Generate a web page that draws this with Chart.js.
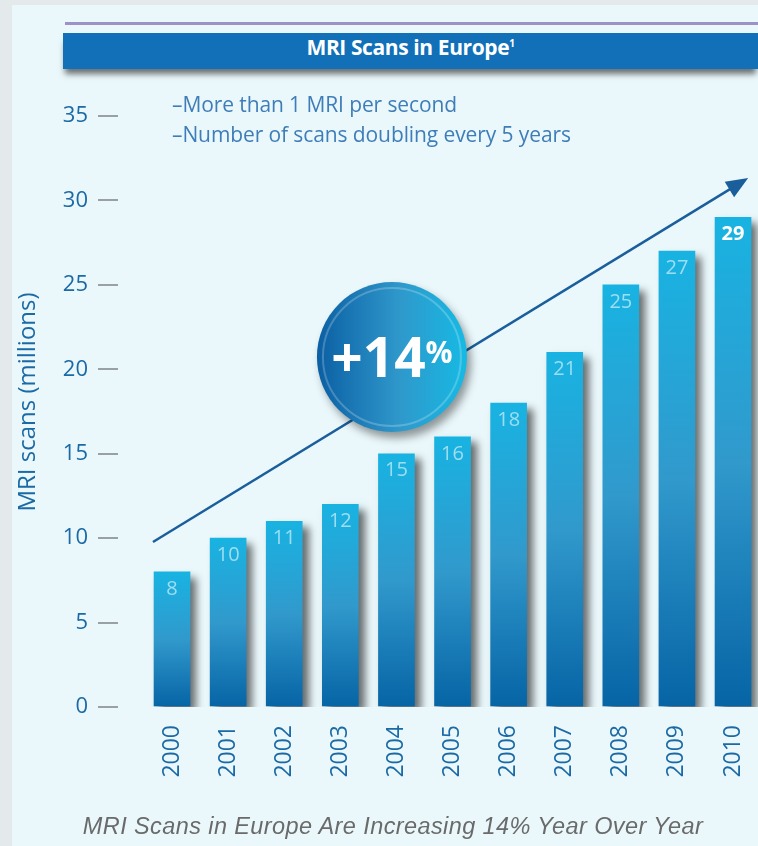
<!DOCTYPE html>
<html>
<head>
<meta charset="utf-8">
<title>MRI Scans in Europe</title>
<script src="https://cdn.jsdelivr.net/npm/chart.js@4/dist/chart.umd.min.js"></script>
<style>
  html, body { margin: 0; padding: 0; background: #e4e9ec; overflow: hidden; }
  #page { position: relative; width: 758px; height: 846px; }
  .panel { position: absolute; left: 12px; top: 5px; right: 0; bottom: 0; background: #eaf8fc; }
  .rule { position: absolute; left: 65px; top: 22px; right: 0; height: 3px; background: #9d92c8; }
  .title-bar {
    position: absolute; left: 63px; top: 33px; right: 0; height: 36px;
    background: #1170b8; color: #fff; text-align: center; line-height: 37px;
    font: bold 21px "Open Sans", sans-serif; letter-spacing: -0.4px;
    box-shadow: 0 7px 6px -2px rgba(0, 0, 0, 0.55);
  }
  .title-bar sup { font-size: 10px; vertical-align: 8px; }
  #chart { position: absolute; left: 0; top: 0; }
  .notes {
    position: absolute; left: 172px; top: 89px; color: #3f7db8;
    font: 21px "Open Sans", sans-serif; line-height: 30px; letter-spacing: -0.1px;
  }
  .caption {
    position: absolute; left: 0; width: 786px; top: 813px; text-align: center;
    color: #6a6a6a; font: italic 23.5px "Liberation Sans", Arial, sans-serif; letter-spacing: 0.4px;
  }
</style>
</head>
<body>
<div id="page">
  <div class="panel"></div>
  <div class="rule"></div>
  <div class="title-bar">MRI Scans in Europe<sup>1</sup></div>
  <canvas id="chart" width="758" height="846"></canvas>
  <div class="notes">–More than 1 MRI per second<br>–Number of scans doubling every 5 years</div>
  <div class="caption">MRI Scans in Europe Are Increasing 14% Year Over Year</div>
</div>
<script>
// ── Data ────────────────────────────────────────────────────
const years = ["2000", "2001", "2002", "2003", "2004", "2005", "2006", "2007", "2008", "2009", "2010"];
const scans = [8, 10, 11, 12, 15, 16, 18, 21, 25, 27, 29];
const yTicks = [0, 5, 10, 15, 20, 25, 30, 35];
const yTitle = "MRI scans (millions)";

// trend arrow and growth badge, in (year index, millions)
const trendFrom = [-0.34, 9.77];
const trendTo = [10.27, 31.33];
const badgeAt = [3.92, 20.73];
const badgeText = "+14";

const BLUE_TEXT = "#1b6aa5";

// ── Drawing helpers ─────────────────────────────────────────

function barGradient(context) {
  const chart = context.chart;
  const area = chart.chartArea;
  if (!area) return "#1aa6da";
  const top = chart.scales.y.getPixelForValue(scans[context.dataIndex]);
  const g = chart.ctx.createLinearGradient(0, top, 0, area.bottom);
  g.addColorStop(0, "#18b3e2");
  g.addColorStop(0.5, "#3199cc");
  g.addColorStop(1, "#0664a5");
  return g;
}

const decor = {
  id: "decor",
  beforeDatasetsDraw(chart) {
    const { ctx, scales: { x, y } } = chart;
    // trend arrow behind the bars
    const x1 = x.getPixelForValue(trendFrom[0]), y1 = y.getPixelForValue(trendFrom[1]);
    const x2 = x.getPixelForValue(trendTo[0]), y2 = y.getPixelForValue(trendTo[1]);
    const ang = Math.atan2(y2 - y1, x2 - x1);
    ctx.save();
    ctx.strokeStyle = "#1a5e9c";
    ctx.fillStyle = "#1a5e9c";
    ctx.lineWidth = 2.5;
    ctx.beginPath();
    ctx.moveTo(x1, y1);
    ctx.lineTo(x2 - 16 * Math.cos(ang), y2 - 16 * Math.sin(ang));
    ctx.stroke();
    ctx.translate(x2, y2);
    ctx.rotate(ang);
    ctx.beginPath();
    ctx.moveTo(0, 0);
    ctx.lineTo(-22, -9);
    ctx.lineTo(-22, 9);
    ctx.closePath();
    ctx.fill();
    ctx.restore();

    // soft drop shadow for the bars
    ctx.save();
    ctx.shadowColor = "rgba(30, 30, 30, 0.65)";
    ctx.shadowBlur = 8;
    ctx.shadowOffsetX = 6;
    ctx.shadowOffsetY = 6;
  },
  afterDatasetsDraw(chart) {
    const { ctx, scales: { x, y } } = chart;
    ctx.restore();

    // value labels inside the bar tops
    ctx.save();
    ctx.textAlign = "center";
    ctx.textBaseline = "middle";
    scans.forEach((v, i) => {
      const last = i === scans.length - 1;
      ctx.font = (last ? "bold " : "") + "20px 'Open Sans', sans-serif";
      ctx.fillStyle = last ? "#ffffff" : "rgba(205, 240, 250, 0.72)";
      ctx.fillText(String(v), x.getPixelForValue(i), y.getPixelForValue(v) + 17);
    });
    ctx.restore();

    // growth badge
    const cx = x.getPixelForValue(badgeAt[0]);
    const cy = y.getPixelForValue(badgeAt[1]);
    const r = 75;
    ctx.save();
    ctx.shadowColor = "rgba(0, 0, 0, 0.4)";
    ctx.shadowBlur = 9;
    ctx.shadowOffsetX = 4;
    ctx.shadowOffsetY = 6;
    const g = ctx.createLinearGradient(cx - r, 0, cx + r, 0);
    g.addColorStop(0, "#0b5fa3");
    g.addColorStop(0.55, "#2f98cb");
    g.addColorStop(1, "#16bae4");
    ctx.fillStyle = g;
    ctx.beginPath();
    ctx.arc(cx, cy, r, 0, Math.PI * 2);
    ctx.fill();
    ctx.restore();

    ctx.save();
    ctx.strokeStyle = "rgba(255, 255, 255, 0.22)";
    ctx.lineWidth = 2;
    ctx.beginPath();
    ctx.arc(cx, cy, r - 6, 0, Math.PI * 2);
    ctx.stroke();

    ctx.fillStyle = "#ffffff";
    ctx.textBaseline = "alphabetic";
    ctx.font = "bold 55px 'Open Sans', sans-serif";
    const wMain = ctx.measureText(badgeText).width;
    ctx.font = "bold 30px 'Open Sans', sans-serif";
    const wPct = ctx.measureText("%").width;
    const left = cx - (wMain + wPct) / 2;
    ctx.textAlign = "left";
    ctx.font = "bold 55px 'Open Sans', sans-serif";
    ctx.fillText(badgeText, left, cy + 20);
    ctx.font = "bold 30px 'Open Sans', sans-serif";
    ctx.fillText("%", left + wMain, cy + 6);
    ctx.restore();

    // y axis title
    ctx.save();
    ctx.translate(28, 402);
    ctx.rotate(-Math.PI / 2);
    ctx.textAlign = "center";
    ctx.textBaseline = "middle";
    ctx.fillStyle = BLUE_TEXT;
    ctx.font = "24px 'Open Sans', sans-serif";
    ctx.fillText(yTitle, 0, 0);
    ctx.restore();
  }
};

// ── Chart ───────────────────────────────────────────────────

new Chart(document.getElementById("chart"), {
  type: "bar",
  data: {
    datasets: [{
      data: scans.map((v, i) => ({ x: i, y: v })),
      backgroundColor: barGradient,
      barThickness: 36,
      borderWidth: 0
    }]
  },
  options: {
    responsive: false,
    animation: false,
    layout: { padding: { top: 116, left: 0, right: 0, bottom: 0 } },
    plugins: { legend: { display: false }, tooltip: { enabled: false } },
    scales: {
      x: {
        type: "linear",
        offset: false,
        min: -0.963,
        max: 10.445,
        grid: { display: false, offset: false },
        border: { display: false },
        afterBuildTicks: (axis) => { axis.ticks = years.map((_, i) => ({ value: i })); },
        afterFit: (axis) => { axis.height = 139; axis.paddingLeft = 0; axis.paddingRight = 0; },
        ticks: {
          autoSkip: false,
          minRotation: 90,
          maxRotation: 90,
          padding: 10,
          color: BLUE_TEXT,
          font: { family: "'Open Sans', sans-serif", size: 23 },
          callback: (v) => years[v]
        }
      },
      y: {
        min: 0,
        max: 35,
        afterBuildTicks: (axis) => { axis.ticks = yTicks.map((v) => ({ value: v })); },
        afterFit: (axis) => { axis.width = 118; },
        grid: {
          drawOnChartArea: false,
          drawTicks: true,
          tickLength: 20,
          color: "#9aa1a6",
          lineWidth: 2
        },
        border: { display: false },
        ticks: {
          padding: 10,
          color: BLUE_TEXT,
          font: { family: "'Open Sans', sans-serif", size: 22 }
        }
      }
    }
  },
  plugins: [decor]
});
</script>
</body>
</html>
